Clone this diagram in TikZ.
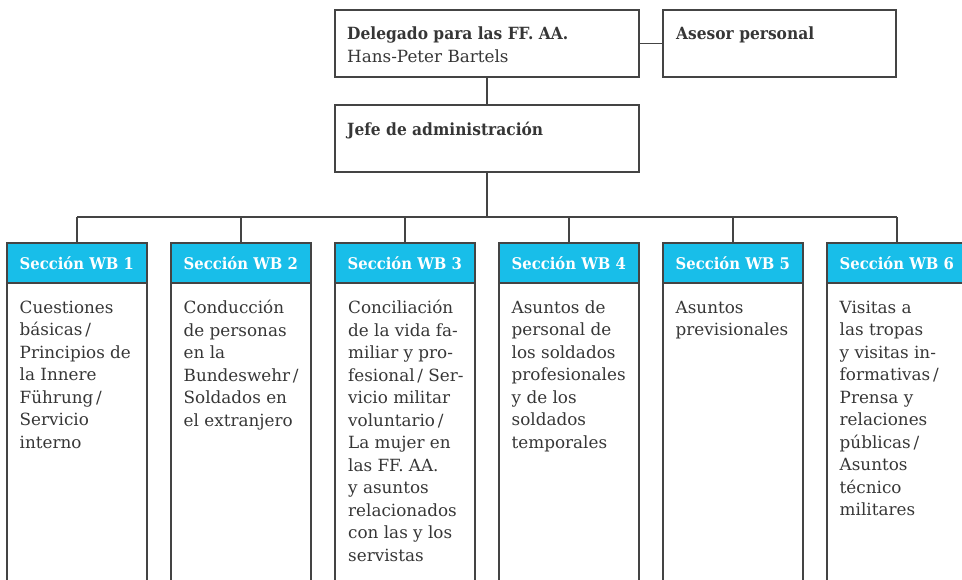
\documentclass[tikz,border=0pt]{standalone}
\usepackage{fontspec}
\setmainfont{DejaVu Serif}[BoldFeatures={FakeStretch=0.92}]
\definecolor{wbcyan}{HTML}{18BEE9}
\definecolor{ink}{HTML}{363636}
\definecolor{rulec}{HTML}{444444}
\newcommand\topstrut{\rule{0pt}{13pt}}
\begin{document}
\begin{tikzpicture}[x=1pt,y=-1pt,
  box/.style={draw=rulec, line width=1.3pt, rectangle, inner sep=0pt, outer sep=0pt, anchor=north west},
  hdr/.style={draw=rulec, fill=wbcyan, line width=1.3pt, rectangle, inner sep=0pt, outer sep=0pt, anchor=north west, minimum width=140pt, minimum height=40pt},
  txt/.style={anchor=base west, inner sep=0pt, text=ink, font=\fontsize{16.8}{22.5}\selectfont},
  hdrtxt/.style={anchor=base west, inner sep=0pt, text=white, font=\fontsize{16.1}{22.5}\selectfont\bfseries},
  body/.style={anchor=north west, inner sep=0pt, text=ink, align=left, font=\fontsize{16.8}{22.5}\selectfont},
  conn/.style={draw=rulec, line width=1.3pt}
]
\useasboundingbox (0,0) rectangle (962,579);
\clip (0,0) rectangle (962,579);
% top boxes
\node[box, minimum width=304pt, minimum height=67pt] (del) at (335,10) {};
\node[txt] (delT) at (347,39) {\bfseries Delegado para las FF.\ AA.};
\node[txt] (delN) at (347,62) {Hans-Peter Bartels};
\node[box, minimum width=233pt, minimum height=67pt] (ase) at (663,10) {};
\node[txt] (aseT) at (676,39) {\bfseries Asesor personal};
\node[box, minimum width=304pt, minimum height=67pt] (jefe) at (335,105) {};
\node[txt] (jefeT) at (347,135) {\bfseries Jefe de administración};
\draw[conn] (del.east) -- (ase.west);
\draw[conn] (del.south) -- (jefe.north);
\coordinate (bus) at (487,217);
\draw[conn] (jefe.south) -- (jefe.south |- bus);
% sections
\foreach \i/\x in {1/7,2/171,3/335,4/499,5/663,6/827}{
  \draw[conn] (\x,243) rectangle (\x+140,640);
  \node[hdr] (h\i) at (\x,243) {};
  \node[hdrtxt] (h\i T) at (\x+12.5,269) {Sección WB \i};
  \draw[conn] (h\i.north) -- (h\i.north |- bus);
}
\draw[conn] (h1.north |- bus) -- (h6.north |- bus);
\node[body] (b1) at (19.5,300) {\topstrut Cuestiones\\básicas\,/\\Principios de\\la Innere\\Führung\,/\\Servicio\\interno};
\node[body] (b2) at (183.5,300) {\topstrut Conducción\\de personas\\en la\\Bundeswehr\,/\\Soldados en\\el extranjero};
\node[body] (b3) at (348,300) {\topstrut Conciliación\\de la vida fa-\\miliar y pro-\\fesional\,/ Ser-\\vicio militar\\voluntario\,/\\La mujer en\\las FF.\ AA.\\y asuntos\\relacionados\\con las y los\\servistas};
\node[body] (b4) at (511.5,300) {\topstrut Asuntos de\\personal de\\los soldados\\profesionales\\y de los\\soldados\\temporales};
\node[body] (b5) at (675.5,300) {\topstrut Asuntos\\previsionales};
\node[body] (b6) at (839.5,300) {\topstrut Visitas a\\las tropas\\y visitas in-\\formativas\,/\\Prensa y\\relaciones\\públicas\,/\\Asuntos\\técnico\\militares};
\end{tikzpicture}
\end{document}
